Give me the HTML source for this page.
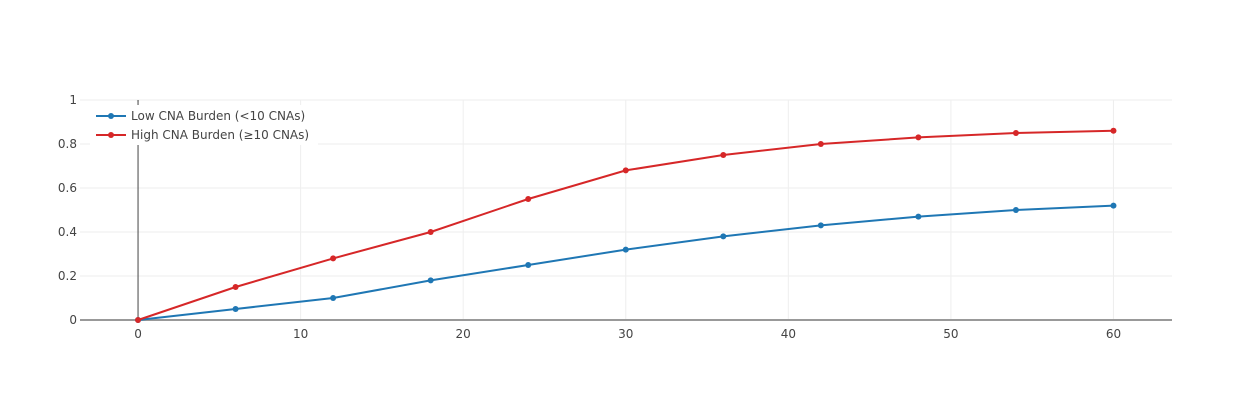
<!DOCTYPE html>
<html><head><meta charset="utf-8"><style>
body{margin:0;background:#fff;}
svg{display:block;font-family:"DejaVu Sans",Verdana,sans-serif;}
</style></head><body>
<svg id="chart" width="1252" height="400"></svg>
<script>
const xVals=[0,6,12,18,24,30,36,42,48,54,60];
const lowVals=[0,0.05,0.10,0.18,0.25,0.32,0.38,0.43,0.47,0.50,0.52];
const highVals=[0,0.15,0.28,0.40,0.55,0.68,0.75,0.80,0.83,0.85,0.86];
const xTicks=[0,10,20,30,40,50,60];
const yTicks=[0,0.2,0.4,0.6,0.8,1];
const yTickLabels=["0","0.2","0.4","0.6","0.8","1"];
const seriesNames=["Low CNA Burden (<10 CNAs)","High CNA Burden (≥10 CNAs)"];
const seriesColors=["#1f77b4","#d62728"];

const NS="http://www.w3.org/2000/svg";
const svg=document.getElementById('chart');
const L=80,R=1172,T=100,B=320;
const xMin=-3.57,xMax=63.6;
const sx=v=>L+(v-xMin)/(xMax-xMin)*(R-L);
const sy=v=>B-v*(B-T);
function mk(tag,attrs,parent){const e=document.createElementNS(NS,tag);for(const k in attrs)e.setAttribute(k,attrs[k]);(parent||svg).appendChild(e);return e;}

const grid=mk('g',{});


xTicks.forEach(t=>{if(t!==0)mk('line',{x1:sx(t),x2:sx(t),y1:T,y2:B,stroke:'#eee','stroke-width':1},grid);});
yTicks.forEach(t=>{if(t!==0)mk('line',{x1:L,x2:R,y1:sy(t),y2:sy(t),stroke:'#eee','stroke-width':1},grid);});

const zl=mk('line',{x1:sx(0),x2:sx(0),y1:T,y2:B,stroke:'#444','stroke-width':1});


const ax=mk('line',{x1:L,x2:R,y1:B,y2:B,stroke:'#999','stroke-width':2});



xTicks.forEach(t=>{const e=mk('text',{x:sx(t),y:B+18,'text-anchor':'middle','font-size':12,fill:'#444'});e.textContent=t;

});
yTicks.forEach((t,i)=>{const e=mk('text',{x:L-3,y:sy(t)+4,'text-anchor':'end','font-size':12,fill:'#444'});e.textContent=yTickLabels[i];

});

[lowVals,highVals].forEach((vals,si)=>{
  const g=mk('g',{});
  
  
  mk('polyline',{points:vals.map((v,i)=>sx(xVals[i])+','+sy(v)).join(' '),fill:'none',stroke:seriesColors[si],'stroke-width':2},g);
  vals.forEach((v,i)=>{const c=mk('circle',{cx:sx(xVals[i]),cy:sy(v),r:3,fill:seriesColors[si]},g);
  
  });
});

const lg=mk('g',{});


mk('rect',{x:90,y:105,width:228,height:40,fill:'#fff'},lg);
seriesNames.forEach((n,i)=>{
  const y=116+i*19;
  const it=mk('g',{},lg);
  
  
  mk('line',{x1:96,x2:126,y1:y,y2:y,stroke:seriesColors[i],'stroke-width':2},it);
  mk('circle',{cx:111,cy:y,r:3,fill:seriesColors[i]},it);
  const t=mk('text',{x:131,y:y+4,'font-size':12,fill:'#444'},it);t.textContent=n;
});
mk('line',{x1:sx(0),x2:sx(0),y1:100,y2:102,stroke:'#444'});
</script>
</body></html>
